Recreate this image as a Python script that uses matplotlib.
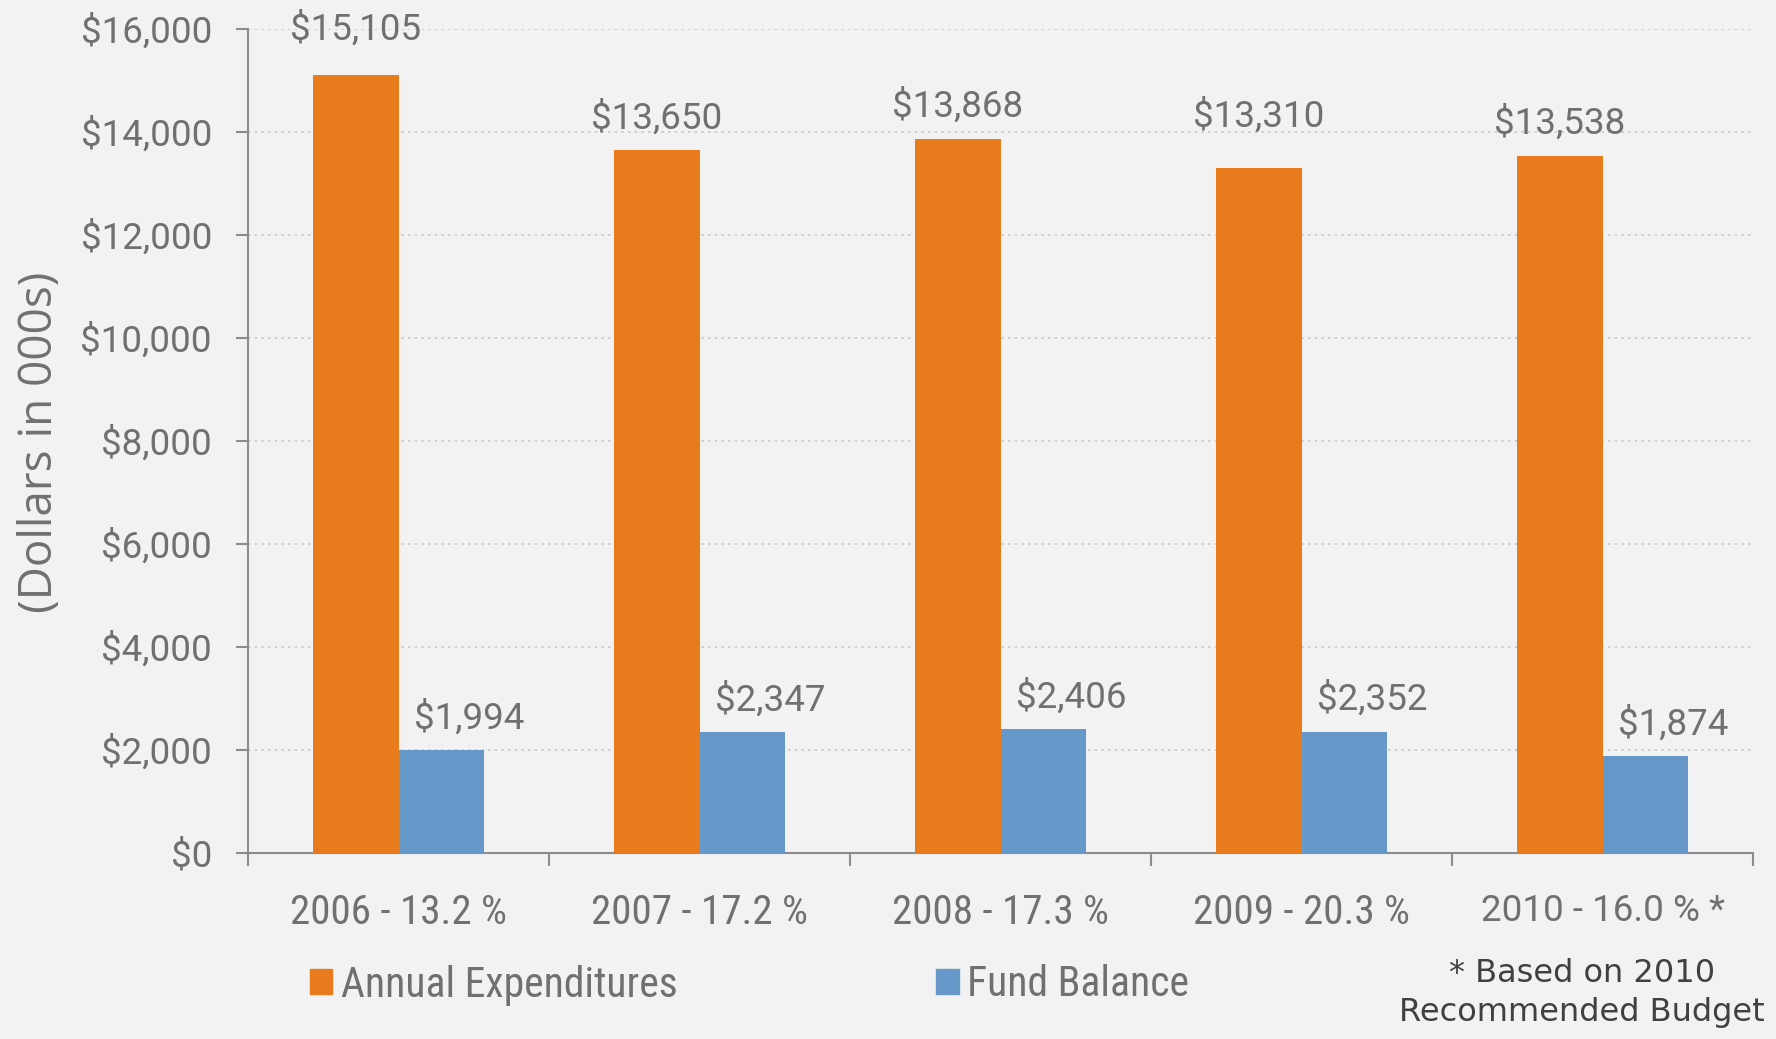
import matplotlib.pyplot as plt
import matplotlib.patches as mpatches
import numpy as np

# data (dollars in 000s)
categories = ["2006 - 13.2 %", "2007 - 17.2 %", "2008 - 17.3 %", "2009 - 20.3 %", "2010 - 16.0 % *"]
expenditures = [15105, 13650, 13868, 13310, 13538]
fund_balance = [1994, 2347, 2406, 2352, 1874]
y_ticks = [0, 2000, 4000, 6000, 8000, 10000, 12000, 14000, 16000]

ORANGE = "#E87B1C"
BLUE = "#6699C9"
BG = "#F2F2F2"
TXT = "#707070"
AXC = "#8C8C8C"
NARROW = "Roboto Condensed"

fig = plt.figure(figsize=(17.76, 10.39), dpi=100, facecolor=BG)
ax = fig.add_axes([248 / 1776, 1 - 853 / 1039, (1753 - 248) / 1776, (853 - 29) / 1039])
ax.set_facecolor(BG)

x = np.arange(len(categories))
w = 0.283
b1 = ax.bar(x - w / 2, expenditures, w, color=ORANGE, zorder=3)
b2 = ax.bar(x + w / 2, fund_balance, w, color=BLUE, zorder=3)

ax.set_xlim(-0.5, len(categories) - 0.5)
ax.set_ylim(0, 16000)

# value labels (a couple of them sit a bit higher in the original)
lift = [10, 0, 0, 14, 0]
for r, v, dy in zip(b1, expenditures, lift):
    ax.annotate("${:,}".format(v), (r.get_x() + r.get_width() / 2, v), xytext=(0, 23 + dy),
                textcoords="offset points", ha="center", va="center",
                fontsize=26.5, color=TXT, family="Roboto")
for r, v in zip(b2, fund_balance):
    ax.annotate("${:,}".format(v), (r.get_x() + r.get_width() / 2, v), xytext=(20, 23),
                textcoords="offset points", ha="center", va="center",
                fontsize=26.5, color=TXT, family="Roboto")

# y axis
ax.set_yticks(y_ticks)
ax.set_yticklabels(["${:,}".format(t) for t in y_ticks], family="Roboto", fontsize=26.5, color=TXT)
ax.tick_params(axis="y", length=9, width=1.5, color=AXC, pad=17)
ax.grid(axis="y", linestyle=(0, (1.5, 2.5)), color="#C8C8C8", linewidth=1.2, zorder=0)

# x axis: ticks at boundaries, labels at centers
ax.set_xticks(np.arange(-0.5, len(categories)), minor=False)
ax.set_xticklabels([])
ax.set_xticks(x, minor=True)
ax.set_xticklabels(categories, minor=True, fontsize=29.5, color=TXT, family=NARROW)
ax.get_xticklabels(minor=True)[-1].set_family("Roboto")
ax.get_xticklabels(minor=True)[-1].set_fontsize(26.5)
ax.tick_params(axis="x", which="major", direction="out", length=9, width=1.5, color=AXC)
ax.tick_params(axis="x", which="minor", length=0, pad=29)

for s in ["top", "right"]:
    ax.spines[s].set_visible(False)
for s in ["left", "bottom"]:
    ax.spines[s].set_color(AXC)
    ax.spines[s].set_linewidth(1.5)

fig.text(40 / 1776, 1 - 442 / 1039, "(Dollars in 000s)", rotation=90, ha="center", va="center",
         fontsize=33, color=TXT, family="Open Sans")

handles = [mpatches.Patch(color=ORANGE, label="Annual Expenditures"),
           mpatches.Patch(color=BLUE, label="Fund Balance")]
fig.legend(handles=handles, loc="center left", bbox_to_anchor=(272 / 1776, 1 - 985 / 1039),
           ncol=2, frameon=False, handlelength=0.55, handleheight=0.55, handletextpad=0.2,
           columnspacing=6.2, prop={"family": NARROW, "size": 30},
           labelcolor=TXT)

fig.text(1582 / 1776, 1 - 993 / 1039, "* Based on 2010\nRecommended Budget", ha="center", va="center",
         fontsize=23, color="#404040", family="DejaVu Sans", linespacing=1.35)

fig.savefig("out.png", dpi=100, facecolor=BG)
